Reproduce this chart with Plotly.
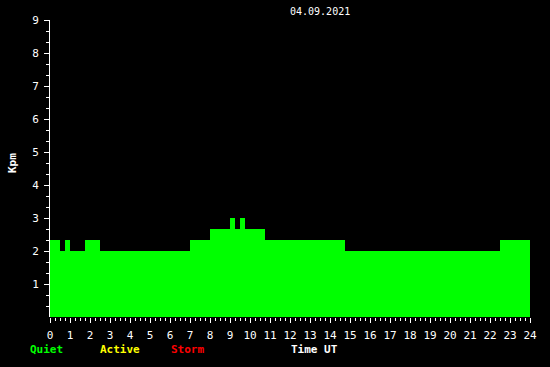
import numpy as np
import plotly.graph_objects as go

# Kpm values at 15-minute resolution (96 intervals, 00:00 - 24:00 UT)
A = 2.0
B = 7 / 3
C = 8 / 3
D = 3.0
kp_values = (
    [B, B, A, B] +                 # 0:00-1:00
    [A, A, A, B] +                 # 1:00-2:00
    [B, B, A, A] +                 # 2:00-3:00
    [A, A, A, A] * 4 +             # 3:00-7:00
    [B, B, B, B] +                 # 7:00-8:00
    [C, C, C, C] +                 # 8:00-9:00
    [D, C, D, C] +                 # 9:00-10:00
    [C, C, C, B] +                 # 10:00-11:00
    [B, B, B, B] * 3 +             # 11:00-14:00
    [B, B, B, A] +                 # 14:00-15:00
    [A, A, A, A] * 7 +             # 15:00-22:00
    [A, A, B, B] +                 # 22:00-23:00
    [B, B, B, B]                   # 23:00-24:00
)
step_h = 0.25
times = [i * step_h + step_h / 2 for i in range(len(kp_values))]

x_ticks = list(range(0, 25))
y_ticks = list(range(1, 10))
y_minor = [k / 3 for k in range(1, 27) if k % 3 != 0]

title_text = "04.09.2021"
y_title = "Kpm"
legend_items = [("Quiet", "#00ff00", 46), ("Active", "#ffff00", 120), ("Storm", "#ff0000", 187)]
x_title = "Time UT"

FONT = "DejaVu Sans Mono"

fig = go.Figure(go.Bar(
    x=times, y=kp_values, width=step_h * 1.02,
    marker=dict(color="#00ff00", line=dict(width=0)),
    hoverinfo="skip",
))

fig.update_layout(
    width=550, height=367,
    margin=dict(l=50, r=20, t=20, b=50),
    paper_bgcolor="black", plot_bgcolor="black",
    bargap=0, showlegend=False,
    font=dict(family=FONT, size=10, color="white"),
)
fig.update_xaxes(
    range=[0, 24], tickmode="array", tickvals=x_ticks,
    ticks="outside", ticklen=5, tickcolor="white", tickwidth=1,
    showgrid=False, zeroline=False, showline=False,
    ticklabelstandoff=3,
    tickfont=dict(family=FONT, size=11, color="white"),
    minor=dict(dtick=0.25, tick0=0, ticks="outside", ticklen=3, tickcolor="white", tickwidth=1, showgrid=False),
    fixedrange=True,
)
fig.update_yaxes(
    range=[0, 9], tickmode="array", tickvals=y_ticks,
    ticks="outside", ticklen=5, tickcolor="white", tickwidth=1,
    showgrid=False, zeroline=False, showline=True, linecolor="white", linewidth=1,
    layer="below traces",
    ticklabelstandoff=3,
    tickfont=dict(family=FONT, size=11, color="white"),
    minor=dict(tickmode="array", tickvals=y_minor, ticks="outside", ticklen=3, tickcolor="white", tickwidth=1, showgrid=False),
    fixedrange=True,
)

# text items: (text, px_x, px_y_from_top, size, color, weight, angle)
items = [(title_text, 320, 12, 10, "white", "normal", 0),
         (y_title, 12, 163, 11, "white", "bold", -90),
         (x_title, 314, 349, 11, "white", "bold", 0)]
for label, color, cx in legend_items:
    items.append((label, cx, 349, 11, color, "bold", 0))

pw, ph = 550 - 70, 367 - 70
annotations = []
for text, px, py, size, color, weight, ang in items:
    annotations.append(dict(
        text=text, x=(px - 50) / pw, y=(367 - py - 50) / ph,
        xref="paper", yref="paper", xanchor="center", yanchor="middle",
        showarrow=False, textangle=ang,
        font=dict(family=FONT, size=size, color=color, weight=weight),
    ))
fig.update_layout(annotations=annotations)

fig.write_html("out.html")
